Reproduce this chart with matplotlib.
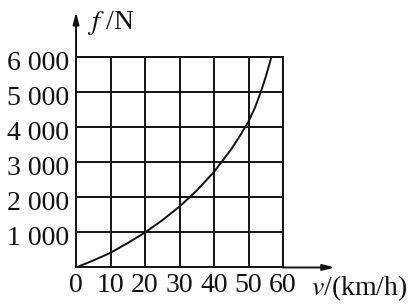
import numpy as np
import matplotlib
matplotlib.use("Agg")
import matplotlib.pyplot as plt
from matplotlib.transforms import ScaledTranslation

plt.rcParams['font.family'] = ['Liberation Serif', 'DejaVu Serif']
plt.rcParams['mathtext.fontset'] = 'stix'

# speed (km/h) vs resistance force (N)
speed = [0, 5, 10, 15, 20, 25, 30, 35, 40, 45, 47.5, 50, 52, 53.5, 55, 56.6]
force = [0, 200, 420, 700, 1000, 1350, 1740, 2200, 2730, 3380, 3760, 4170, 4600, 5000, 5450, 6000]

x_ticks = [0, 10, 20, 30, 40, 50, 60]
y_ticks = [1000, 2000, 3000, 4000, 5000, 6000]
y_labels = ['1 000', '2 000', '3 000', '4 000', '5 000', '6 000']

fig = plt.figure(figsize=(4.17, 3.05), dpi=100)
ax = fig.add_axes([0.1823, 0.1230, 0.4964, 0.6885])

ax.plot(speed, force, color='#111111', lw=1.4)

ax.set_xlim(0, 60)
ax.set_ylim(0, 6000)
ax.set_xticks(x_ticks)
ax.set_xticklabels([str(t) for t in x_ticks], fontsize=20)
ax.set_yticks(y_ticks)
ax.set_yticklabels(y_labels, fontsize=20)
ax.tick_params(length=0, colors='#111111')
ax.tick_params(axis='x', pad=4)
ax.tick_params(axis='y', pad=5)
ax.grid(True, color='#111111', lw=1.4)
for s in ax.spines.values():
    s.set_color('#111111')
    s.set_linewidth(1.4)

# nudge y labels down a little like the print
off = ScaledTranslation(0, -3 / 100, fig.dpi_scale_trans)
for lab in ax.get_yticklabels():
    lab.set_transform(lab.get_transform() + off)

# axis arrows
arrow = dict(arrowstyle='-|>,head_length=0.7,head_width=0.18', color='#111111', lw=1.4,
             shrinkA=0, shrinkB=0)
ax.annotate('', xy=(0, 7300), xytext=(0, 5990), arrowprops=arrow, annotation_clip=False)
ax.annotate('', xy=(75, 0), xytext=(59.9, 0), arrowprops=arrow, annotation_clip=False)

ax.text(3.2, 6800, '$f$ /N', fontsize=20, va='baseline', ha='left', color='#111111')
ax.text(68.0, -800, '$v$/(km/h)', fontsize=20, va='baseline', ha='left', color='#111111')

fig.savefig('out.png', dpi=100)
